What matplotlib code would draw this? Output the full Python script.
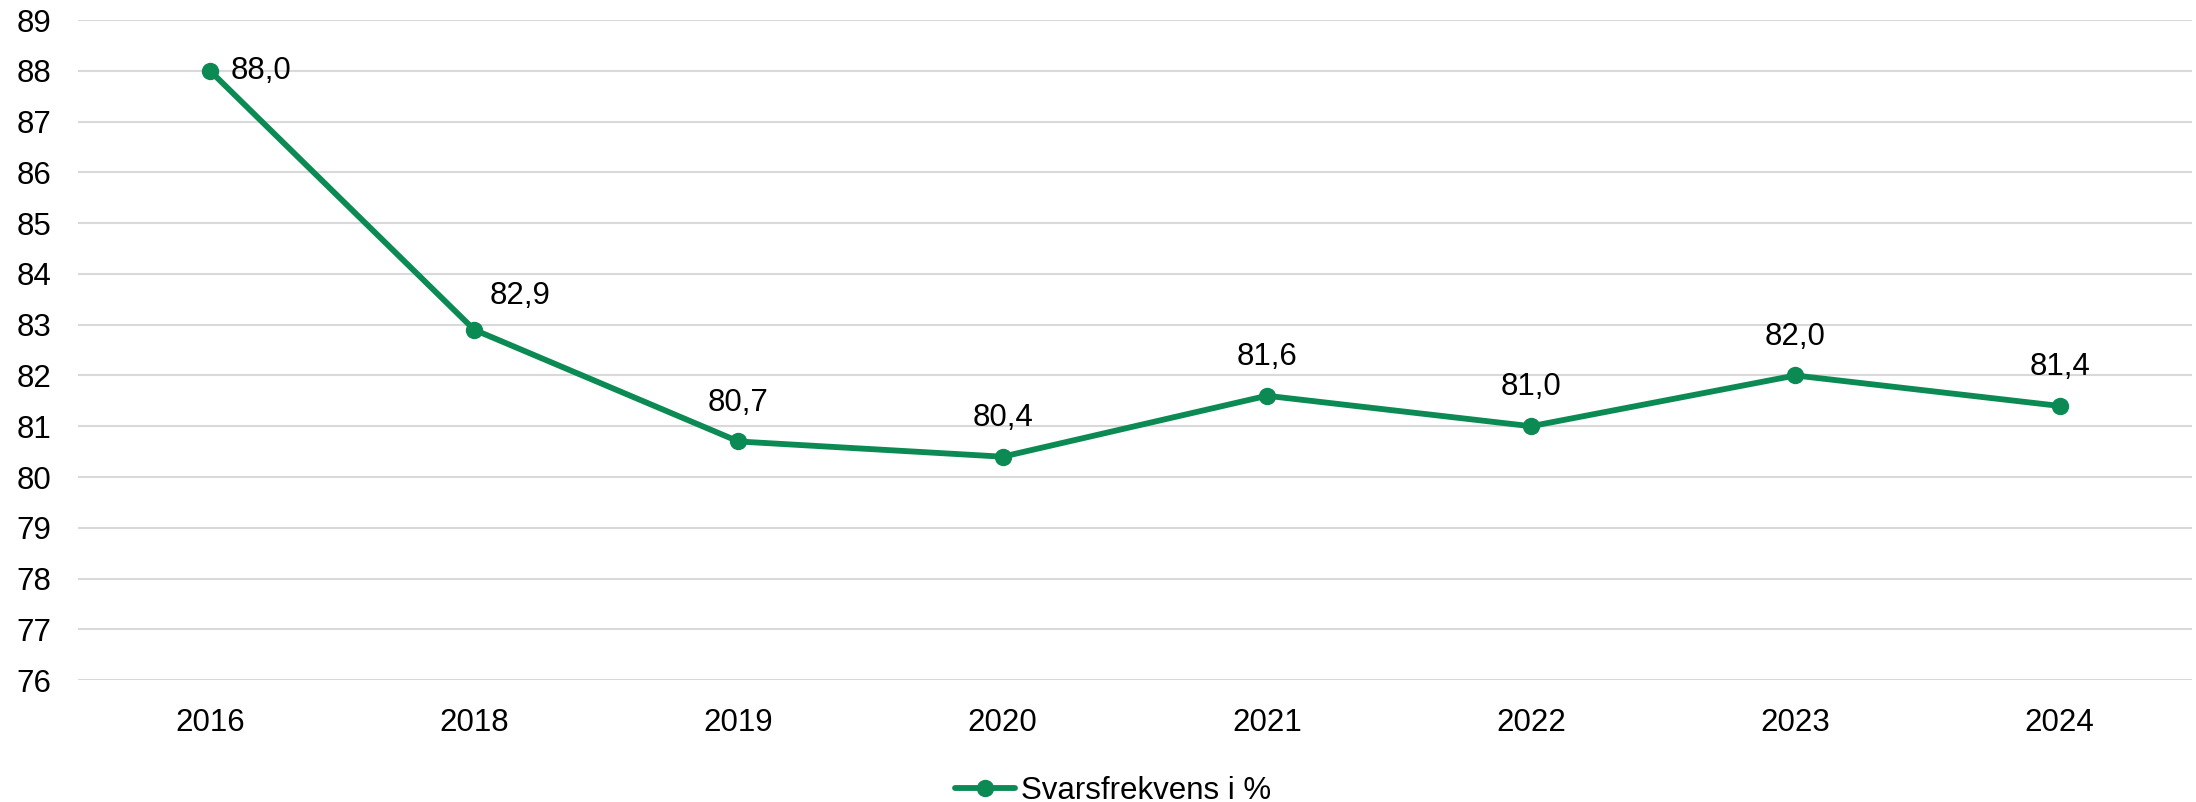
import matplotlib.pyplot as plt

plt.rcParams['font.family'] = ['Liberation Sans', 'DejaVu Sans']

years = ['2016', '2018', '2019', '2020', '2021', '2022', '2023', '2024']
values = [88.0, 82.9, 80.7, 80.4, 81.6, 81.0, 82.0, 81.4]
series_name = 'Svarsfrekvens i %'

green = '#0b8a54'

fig = plt.figure(figsize=(21.96, 8.02), dpi=100)
ax = fig.add_axes([0.0355, 0.152, 0.9625, 0.823])

x = list(range(len(years)))
ax.plot(x, values, color=green, linewidth=4.2, marker='o', markersize=11.5,
        label=series_name, zorder=3, solid_capstyle='round')

# data labels, Excel style
for i, v in enumerate(values):
    txt = f'{v:.1f}'.replace('.', ',')
    if i == 0:
        ax.annotate(txt, (i, v), xytext=(15, 0), textcoords='offset points',
                    ha='left', va='center', fontsize=22.5)
    elif i == 1:
        ax.annotate(txt, (i, v), xytext=(33, 24), textcoords='offset points',
                    ha='center', va='center', fontsize=22.5)
    else:
        ax.annotate(txt, (i, v), xytext=(0, 28), textcoords='offset points',
                    ha='center', va='center', fontsize=22.5)

ax.set_xlim(-0.5, len(years) - 0.5)
ax.set_ylim(76, 89)
ax.set_yticks(range(76, 90))
ax.set_xticks(x)
ax.set_xticklabels(years)
ax.tick_params(axis='both', length=0, labelsize=22.5)
ax.tick_params(axis='y', pad=19)
ax.tick_params(axis='x', pad=20)
ax.grid(axis='y', color='#d9d9d9', linewidth=1.5)
ax.set_axisbelow(True)
for s in ax.spines.values():
    s.set_visible(False)

fig.legend(loc='lower center', bbox_to_anchor=(0.507, -0.04), frameon=False,
           fontsize=22.5, handlelength=1.9, handletextpad=0.2)

fig.savefig('out.png', dpi=100)
